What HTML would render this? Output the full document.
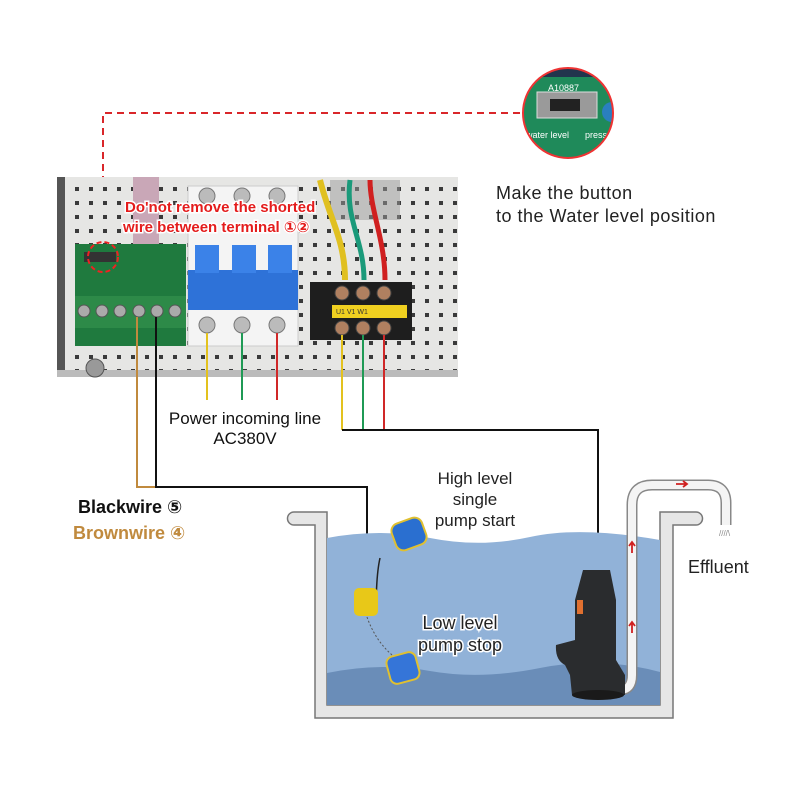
<!DOCTYPE html>
<html><head><meta charset="utf-8"><style>
html,body{margin:0;padding:0;background:#fff;}
svg{display:block;font-family:"Liberation Sans","DejaVu Sans",sans-serif;}
</style></head><body>
<svg width="790" height="790" viewBox="0 0 790 790" xmlns="http://www.w3.org/2000/svg">
<defs>
<pattern id="peg" x="0" y="0" width="14" height="14" patternUnits="userSpaceOnUse">
<rect width="14" height="14" fill="#e6e6e4"/><rect x="5" y="5" width="4" height="4" fill="#3a3a3a"/>
</pattern>
<clipPath id="cc"><circle cx="568" cy="113" r="45"/></clipPath>
</defs>

<path d="M103 243 V113 H523" fill="none" stroke="#d9262a" stroke-width="2" stroke-dasharray="7,5"/>

<g clip-path="url(#cc)">
<rect x="520" y="65" width="100" height="100" fill="#1f8a5a"/>
<rect x="520" y="65" width="100" height="12" fill="#22354d"/>
<rect x="537" y="92" width="60" height="26" fill="#9a9a9a" stroke="#ddd"/>
<rect x="550" y="99" width="30" height="12" fill="#222"/>
<text x="548" y="91" font-size="9" fill="#fff">A10887</text>
<text x="526" y="138" font-size="9" fill="#fff">water level</text>
<text x="585" y="138" font-size="9" fill="#fff">pressu</text>
<circle cx="612" cy="112" r="10" fill="#2a7fc0"/>
</g>
<circle cx="568" cy="113" r="45" fill="none" stroke="#e33" stroke-width="2"/>

<text x="496" y="199" font-size="18" letter-spacing="0.5" fill="#222">Make the button</text>
<text x="496" y="222" font-size="18" letter-spacing="0.5" fill="#222">to the Water level position</text>

<rect x="57" y="177" width="401" height="200" fill="url(#peg)"/>
<rect x="57" y="177" width="8" height="200" fill="#555"/>
<rect x="57" y="370" width="401" height="7" fill="#bbb"/>
<circle cx="95" cy="368" r="9" fill="#999" stroke="#555"/>
<rect x="133" y="177" width="26" height="75" fill="#c9a7b7"/>
<rect x="75" y="244" width="111" height="102" fill="#1f7a3e"/>
<rect x="75" y="296" width="111" height="32" fill="#2d8a48"/>
<rect x="84" y="252" width="32" height="10" fill="#333"/>
<g fill="#aaa" stroke="#555"><circle cx="84" cy="311" r="6"/><circle cx="102" cy="311" r="6"/><circle cx="120" cy="311" r="6"/><circle cx="139" cy="311" r="6"/><circle cx="157" cy="311" r="6"/><circle cx="175" cy="311" r="6"/></g>
<circle cx="103" cy="257" r="15" fill="none" stroke="#e22" stroke-width="2" stroke-dasharray="5,3"/>
<rect x="188" y="186" width="110" height="160" fill="#f4f4f4" stroke="#ccc"/>
<rect x="188" y="270" width="110" height="40" fill="#2e72d8"/>
<rect x="195" y="245" width="24" height="28" fill="#3b82e8"/>
<rect x="232" y="245" width="24" height="28" fill="#3b82e8"/>
<rect x="268" y="245" width="24" height="28" fill="#3b82e8"/>
<g fill="#bbb" stroke="#777"><circle cx="207" cy="325" r="8"/><circle cx="242" cy="325" r="8"/><circle cx="277" cy="325" r="8"/><circle cx="207" cy="196" r="8"/><circle cx="242" cy="196" r="8"/><circle cx="277" cy="196" r="8"/></g>
<rect x="310" y="282" width="102" height="58" fill="#1e1e1e"/>
<rect x="332" y="305" width="75" height="13" fill="#f0d020"/>
<text x="336" y="314" font-size="7" fill="#333">U1   V1   W1</text>
<g fill="#b08060" stroke="#444"><circle cx="342" cy="293" r="7"/><circle cx="363" cy="293" r="7"/><circle cx="384" cy="293" r="7"/><circle cx="342" cy="328" r="7"/><circle cx="363" cy="328" r="7"/><circle cx="384" cy="328" r="7"/></g>
<rect x="330" y="180" width="70" height="40" fill="#999" opacity="0.5"/>
<path d="M345 280 C345 240 330 220 320 180" stroke="#e0c020" stroke-width="6" fill="none"/>
<path d="M364 280 C364 240 345 220 350 180" stroke="#1a9a7a" stroke-width="5" fill="none"/>
<path d="M385 280 C385 240 370 210 370 180" stroke="#d02020" stroke-width="5" fill="none"/>

<text font-size="15" font-weight="bold" fill="#e41c1c" stroke="#fff" stroke-width="3" paint-order="stroke">
<tspan x="125" y="212">Do'not remove the shorted</tspan><tspan x="123" y="232">wire between terminal ①②</tspan></text>

<g fill="none" stroke-width="2">
<path d="M207 333 V400" stroke="#e3c21e"/>
<path d="M242 333 V400" stroke="#1f9a55"/>
<path d="M277 333 V400" stroke="#d02828"/>
<path d="M342 335 V430" stroke="#e3c21e"/>
<path d="M363 335 V430" stroke="#1f9a55"/>
<path d="M384 335 V430" stroke="#d02828"/>
<path d="M342 430 H598 V575" stroke="#111"/>
<path d="M137 317 V487 H155" stroke="#c08a3e"/>
<path d="M156 317 V487 H367 V592" stroke="#111"/>
</g>

<text x="245" y="424" font-size="17" text-anchor="middle" fill="#111">Power incoming line</text>
<text x="245" y="444" font-size="17" text-anchor="middle" fill="#111">AC380V</text>
<text x="78" y="513" font-size="18" font-weight="bold" fill="#111">Blackwire ⑤</text>
<text x="73" y="539" font-size="18" font-weight="bold" fill="#c08a3e">Brownwire ④</text>

<path d="M294 512 H327 V705 H660 V512 H696 A6.5 6.5 0 0 1 696 525 H673 V718 H315 V525 H294 A6.5 6.5 0 0 1 294 512Z" fill="#e6e6e6" stroke="#777" stroke-width="1.5"/>
<path d="M327 538 Q380 528 430 538 T530 537 T660 540 V705 H327Z" fill="#91b2d8"/>
<path d="M327 673 Q380 662 430 671 T540 668 T660 672 V705 H327Z" fill="#6a8db8"/>

<path d="M620 690 Q632 690 632 675 V505 Q632 485 652 485 H708 Q726 485 726 503 V525" fill="none" stroke="#888" stroke-width="11"/>
<path d="M620 690 Q632 690 632 675 V505 Q632 485 652 485 H708 Q726 485 726 503 V525" fill="none" stroke="#f4f4f4" stroke-width="8"/>
<path d="M676 484 H686 M683 481 L687 484 L683 487" stroke="#d02020" stroke-width="1.8" fill="none"/>
<path d="M632 553 V543 M629 546 L632 542 L635 546 M632 633 V623 M629 626 L632 622 L635 626" stroke="#d02020" stroke-width="1.8" fill="none"/>
<text x="719" y="536" font-size="8" fill="#888">////\</text>

<path d="M583 570 H610 L616 600 V660 L625 675 L625 695 H572 L570 675 L565 665 Q555 660 556 645 L575 640 L575 600Z" fill="#2a2c2e"/>
<rect x="577" y="600" width="6" height="14" fill="#e07030"/>
<ellipse cx="598" cy="695" rx="26" ry="5" fill="#1a1a1a"/>

<path d="M380 558 C375 580 378 600 374 600" stroke="#222" fill="none" stroke-width="1.5"/>
<rect x="393" y="520" width="32" height="28" rx="8" fill="#2a6fd0" stroke="#e0c030" stroke-width="2" transform="rotate(-20 409 534)"/>
<rect x="354" y="588" width="24" height="28" rx="5" fill="#e8c818"/>
<path d="M367 617 Q375 640 392 655" stroke="#555" stroke-dasharray="2,2" fill="none"/>
<rect x="388" y="654" width="30" height="28" rx="7" fill="#3575d8" stroke="#e0c030" stroke-width="2" transform="rotate(-15 403 668)"/>

<text font-size="17" fill="#222" text-anchor="middle"><tspan x="475" y="484">High level</tspan><tspan x="475" y="505">single</tspan><tspan x="475" y="526">pump start</tspan></text>
<text font-size="18" fill="#222" text-anchor="middle" stroke="#fff" stroke-width="3" paint-order="stroke"><tspan x="460" y="629">Low level</tspan><tspan x="460" y="651">pump stop</tspan></text>
<text x="688" y="573" font-size="18" fill="#222">Effluent</text>
</svg>
</body></html>
